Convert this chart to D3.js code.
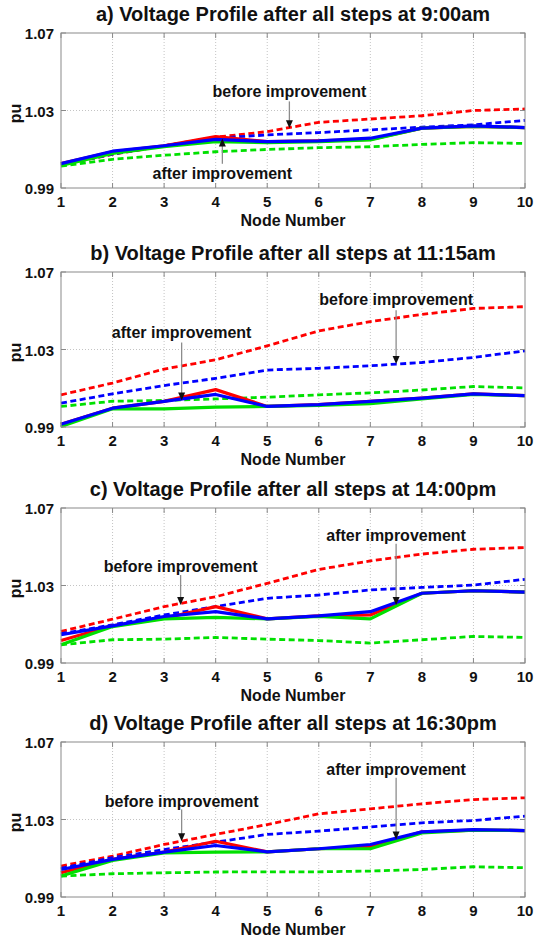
<!DOCTYPE html>
<html>
<head>
<meta charset="utf-8">
<script src="https://cdnjs.cloudflare.com/ajax/libs/d3/7.8.5/d3.min.js"></script>
<style>
  body { margin: 0; background: #fff; }
  svg { display: block; }
  text { font-family: "Liberation Sans", Arial, sans-serif; font-weight: bold; fill: #111; }
</style>
</head>
<body>
<svg id="chart" width="536" height="942"></svg>
<script>
// node numbers on the x axis
var nodes = [1, 2, 3, 4, 5, 6, 7, 8, 9, 10];
var xTicks = [1, 2, 3, 4, 5, 6, 7, 8, 9, 10];
var yTicks = [0.99, 1.03, 1.07];

var titles = [
  "a) Voltage Profile after all steps at 9:00am",
  "b) Voltage Profile after all steps at 11:15am",
  "c) Voltage Profile after all steps at 14:00pm",
  "d) Voltage Profile after all steps at 16:30pm"
];

// dashed = before improvement, solid = after improvement
var redBeforeA   = [1.0020, 1.0073, 1.0118, 1.0162, 1.0191, 1.0239, 1.0256, 1.0273, 1.0300, 1.0308];
var blueBeforeA  = [1.0020, 1.0075, 1.0118, 1.0157, 1.0174, 1.0186, 1.0200, 1.0214, 1.0226, 1.0249];
var greenBeforeA = [1.0013, 1.0048, 1.0069, 1.0087, 1.0099, 1.0108, 1.0113, 1.0125, 1.0134, 1.0130];
var redAfterA    = [1.0026, 1.0087, 1.0118, 1.0165, 1.0139, 1.0143, 1.0151, 1.0209, 1.0218, 1.0212];
var greenAfterA  = [1.0017, 1.0078, 1.0113, 1.0139, 1.0134, 1.0139, 1.0148, 1.0209, 1.0218, 1.0212];
var blueAfterA   = [1.0026, 1.0090, 1.0118, 1.0151, 1.0139, 1.0143, 1.0157, 1.0209, 1.0221, 1.0212];

var redBeforeB   = [1.0066, 1.0127, 1.0199, 1.0247, 1.0319, 1.0396, 1.0444, 1.0481, 1.0512, 1.0521];
var blueBeforeB  = [1.0023, 1.0071, 1.0114, 1.0151, 1.0194, 1.0203, 1.0216, 1.0233, 1.0259, 1.0293];
var greenBeforeB = [1.0006, 1.0033, 1.0037, 1.0045, 1.0054, 1.0066, 1.0076, 1.0091, 1.0109, 1.0102];
var redAfterB    = [0.9914, 0.9997, 1.0032, 1.0093, 1.0006, 1.0015, 1.0032, 1.0049, 1.0071, 1.0062];
var greenAfterB  = [0.9903, 0.9994, 0.9994, 1.0003, 1.0006, 1.0011, 1.0020, 1.0045, 1.0068, 1.0062];
var blueAfterB   = [0.9914, 0.9997, 1.0032, 1.0068, 1.0006, 1.0015, 1.0032, 1.0049, 1.0071, 1.0062];

var redBeforeC   = [1.0063, 1.0126, 1.0191, 1.0242, 1.0311, 1.0383, 1.0427, 1.0462, 1.0487, 1.0496];
var blueBeforeC  = [1.0051, 1.0097, 1.0148, 1.0191, 1.0234, 1.0251, 1.0277, 1.0290, 1.0302, 1.0332];
var greenBeforeC = [0.9994, 1.0020, 1.0023, 1.0032, 1.0023, 1.0016, 1.0003, 1.0020, 1.0037, 1.0032];
var redAfterC    = [1.0016, 1.0092, 1.0131, 1.0191, 1.0128, 1.0143, 1.0148, 1.0260, 1.0273, 1.0266];
var greenAfterC  = [0.9994, 1.0088, 1.0128, 1.0135, 1.0128, 1.0140, 1.0128, 1.0260, 1.0273, 1.0266];
var blueAfterC   = [1.0046, 1.0092, 1.0140, 1.0165, 1.0128, 1.0143, 1.0165, 1.0260, 1.0273, 1.0266];

var redBeforeD   = [1.0060, 1.0111, 1.0171, 1.0223, 1.0274, 1.0329, 1.0355, 1.0381, 1.0403, 1.0412];
var blueBeforeD  = [1.0048, 1.0103, 1.0145, 1.0183, 1.0223, 1.0240, 1.0261, 1.0283, 1.0295, 1.0317];
var greenBeforeD = [1.0008, 1.0020, 1.0025, 1.0029, 1.0030, 1.0030, 1.0034, 1.0042, 1.0056, 1.0051];
var redAfterD    = [1.0025, 1.0094, 1.0132, 1.0188, 1.0133, 1.0149, 1.0158, 1.0236, 1.0245, 1.0243];
var greenAfterD  = [1.0008, 1.0089, 1.0128, 1.0132, 1.0133, 1.0149, 1.0149, 1.0231, 1.0245, 1.0243];
var blueAfterD   = [1.0042, 1.0094, 1.0132, 1.0166, 1.0133, 1.0149, 1.0171, 1.0236, 1.0248, 1.0243];

// annotation: label, arrow x (node), text y, arrow start y, arrow tip y (pu)
var notesA = [["before improvement", 5.43, 1.0399, 1.0347, 1.0208], ["after improvement", 4.13, 0.9973, 1.0025, 1.0156]];
var notesB = [["after improvement", 3.34, 1.0387, 1.0336, 1.0037], ["before improvement", 7.50, 1.0558, 1.0502, 1.0225]];
var notesC = [["before improvement", 3.32, 1.0397, 1.0354, 1.0200], ["after improvement", 7.50, 1.0559, 1.0516, 1.0200]];
var notesD = [["before improvement", 3.34, 1.0394, 1.0352, 1.0188], ["after improvement", 7.50, 1.0558, 1.0515, 1.0197]];

var panels = [
  {before: [redBeforeA, blueBeforeA, greenBeforeA], after: [redAfterA, greenAfterA, blueAfterA], notes: notesA},
  {before: [redBeforeB, blueBeforeB, greenBeforeB], after: [redAfterB, greenAfterB, blueAfterB], notes: notesB},
  {before: [redBeforeC, blueBeforeC, greenBeforeC], after: [redAfterC, greenAfterC, blueAfterC], notes: notesC},
  {before: [redBeforeD, blueBeforeD, greenBeforeD], after: [redAfterD, greenAfterD, blueAfterD], notes: notesD}
];
var beforeColors = ["#ff0000", "#0000ff", "#00e000"];
var afterColors = ["#ff0000", "#00e000", "#0000ff"];

var LEFT = 61, RIGHT = 525, PLOT_H = 155;
var tops = [33, 272, 508, 742];

var svg = d3.select("#chart");

var xScale = d3.scaleLinear().domain([1, 10]).range([LEFT, RIGHT]);

panels.forEach(function(p, k){
  var top = tops[k];
  var yScale = d3.scaleLinear().domain([0.99, 1.07]).range([top + PLOT_H, top]);
  var g = svg.append("g");

  // grid
  g.selectAll("line.vgrid").data(xTicks.slice(1, -1)).enter().append("line")
    .attr("x1", function(d){ return xScale(d); }).attr("x2", function(d){ return xScale(d); })
    .attr("y1", top).attr("y2", top + PLOT_H)
    .attr("stroke", "#c4c4c4").attr("stroke-width", 1).attr("stroke-dasharray", "1,2");
  g.selectAll("line.hgrid").data(yTicks.slice(1, -1)).enter().append("line")
    .attr("x1", LEFT).attr("x2", RIGHT)
    .attr("y1", function(d){ return yScale(d); }).attr("y2", function(d){ return yScale(d); })
    .attr("stroke", "#c4c4c4").attr("stroke-width", 1).attr("stroke-dasharray", "1,2");

  var line = d3.line()
    .x(function(d, i){ return xScale(nodes[i]); })
    .y(function(d){ return yScale(d); });

  p.before.forEach(function(s, i){
    g.append("path").attr("d", line(s)).attr("fill", "none")
      .attr("stroke", beforeColors[i]).attr("stroke-width", 2.8)
      .attr("stroke-dasharray", "6,3.5");
  });
  p.after.forEach(function(s, i){
    g.append("path").attr("d", line(s)).attr("fill", "none")
      .attr("stroke", afterColors[i]).attr("stroke-width", 3.2)
      .attr("stroke-linejoin", "round");
  });

  // box + inward ticks
  g.append("rect").attr("x", LEFT).attr("y", top).attr("width", RIGHT - LEFT).attr("height", PLOT_H)
    .attr("fill", "none").attr("stroke", "#8a8a8a").attr("stroke-width", 1);
  xTicks.forEach(function(t){
    g.append("line").attr("x1", xScale(t)).attr("x2", xScale(t))
      .attr("y1", top + PLOT_H).attr("y2", top + PLOT_H - 5).attr("stroke", "#8a8a8a");
    g.append("line").attr("x1", xScale(t)).attr("x2", xScale(t))
      .attr("y1", top).attr("y2", top + 5).attr("stroke", "#8a8a8a");
  });
  yTicks.forEach(function(t){
    g.append("line").attr("x1", LEFT).attr("x2", LEFT + 5)
      .attr("y1", yScale(t)).attr("y2", yScale(t)).attr("stroke", "#8a8a8a");
    g.append("line").attr("x1", RIGHT).attr("x2", RIGHT - 5)
      .attr("y1", yScale(t)).attr("y2", yScale(t)).attr("stroke", "#8a8a8a");
  });

  // tick labels
  g.selectAll("text.xt").data(xTicks).enter().append("text")
    .attr("x", function(d){ return xScale(d); }).attr("y", top + PLOT_H + 14)
    .attr("dy", "0.35em").attr("text-anchor", "middle").attr("font-size", 15)
    .text(function(d){ return d; });
  g.selectAll("text.yt").data(yTicks).enter().append("text")
    .attr("x", LEFT - 7).attr("y", function(d){ return yScale(d) + 1; })
    .attr("dy", "0.35em").attr("text-anchor", "end").attr("font-size", 15)
    .text(function(d){ return d3.format(".2f")(d); });

  g.append("text").attr("x", (LEFT + RIGHT) / 2).attr("y", top + PLOT_H + 32)
    .attr("dy", "0.35em").attr("text-anchor", "middle").attr("font-size", 16)
    .text("Node Number");
  g.append("text").attr("transform", "translate(15," + (yScale(1.03) + 3) + ") rotate(-90)")
    .attr("dy", "0.35em").attr("text-anchor", "middle").attr("font-size", 16)
    .text("pu");
  g.append("text").attr("x", (LEFT + RIGHT) / 2).attr("y", top - 19)
    .attr("dy", "0.35em").attr("text-anchor", "middle").attr("font-size", 20)
    .text(titles[k]);

  // annotations
  p.notes.forEach(function(n){
    var ax = xScale(n[1]), y0 = yScale(n[3]), y1 = yScale(n[4]);
    var dir = y1 > y0 ? 1 : -1;
    g.append("text").attr("x", ax).attr("y", yScale(n[2]))
      .attr("dy", "0.35em").attr("text-anchor", "middle").attr("font-size", 16)
      .attr("fill", "#222").text(n[0]);
    g.append("line").attr("x1", ax).attr("x2", ax).attr("y1", y0).attr("y2", y1 - dir * 6)
      .attr("stroke", "#8c8c8c").attr("stroke-width", 1.3);
    g.append("path")
      .attr("d", "M" + ax + "," + y1 + "L" + (ax - 3.5) + "," + (y1 - dir * 8) + "L" + (ax + 3.5) + "," + (y1 - dir * 8) + "Z")
      .attr("fill", "#111");
  });
});
</script>
</body>
</html>
